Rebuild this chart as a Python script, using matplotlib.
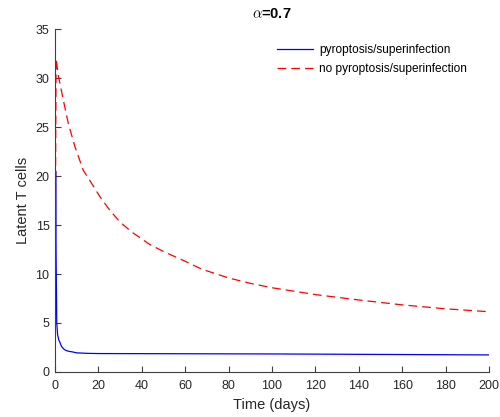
import matplotlib
matplotlib.use("Agg")
import matplotlib.pyplot as plt

plt.rcParams['font.family'] = ['Liberation Sans', 'DejaVu Sans']
plt.rcParams['mathtext.fontset'] = 'cm'

# Data
t_pyro = [0, 0.15, 0.3, 0.5, 0.8, 1.2, 1.7, 2.3, 3, 4, 5, 6.5, 8, 10, 15, 20,
          40, 60, 80, 100, 120, 140, 160, 180, 200]
v_pyro = [0, 12, 20.5, 12, 5.0, 3.8, 3.3, 3.0, 2.6, 2.35, 2.2, 2.1, 2.05, 1.95, 1.9, 1.88,
          1.87, 1.86, 1.85, 1.84, 1.82, 1.80, 1.78, 1.76, 1.74]

t_nopyro = [0, 0.25, 0.5, 1.5, 3.8, 6.1, 9.2, 13, 16.9, 20.7, 25.3, 30, 35.3, 43.8, 50,
            60, 67.6, 80, 90, 100, 120, 140, 160, 180, 200]
v_nopyro = [0, 20, 32.0, 30.3, 27.8, 25.4, 23.0, 20.6, 19.25, 17.9, 16.5, 15.3, 14.3, 13.0,
            12.3, 11.3, 10.5, 9.6, 9.05, 8.6, 7.9, 7.35, 6.85, 6.45, 6.15]

xticks = list(range(0, 201, 20))
yticks = list(range(0, 36, 5))
labels = ['pyroptosis/superinfection', 'no pyroptosis/superinfection']

fig = plt.figure(figsize=(5, 4.17), dpi=100)
ax = fig.add_axes([0.11, 0.108, 0.868, 0.822])

ax.plot(t_pyro, v_pyro, color='#0000ff', lw=0.9, label=labels[0])
ax.plot(t_nopyro, v_nopyro, color='#ff0000', lw=0.9, dashes=(7, 4), label=labels[1])

ax.set_xlim(0, 200)
ax.set_ylim(0, 35)
ax.set_xticks(xticks)
ax.set_yticks(yticks)
for s in ['top', 'right']:
    ax.spines[s].set_visible(False)
for s in ['left', 'bottom']:
    ax.spines[s].set_color('#404040')
    ax.spines[s].set_linewidth(0.8)
ax.tick_params(direction='in', length=4, width=0.8, colors='#404040',
               labelcolor='#262626', labelsize=9)
ax.tick_params(axis='x', pad=6)
ax.tick_params(axis='y', pad=4)

ax.set_xlabel('Time (days)', fontsize=10.5, color='#262626', labelpad=4)
ax.set_ylabel('Latent T cells', fontsize=10.5, color='#262626', labelpad=4)
ax.set_title(r'$\alpha$=0.7', fontsize=10.5, fontweight='bold', color='black', pad=8)

leg = ax.legend(loc='upper left', bbox_to_anchor=(277 / 500, 1 - 44 / 417),
                bbox_transform=fig.transFigure, frameon=False, borderpad=0,
                borderaxespad=0, fontsize=8.6, handlelength=3.0,
                handletextpad=0.5, labelspacing=0.62)

fig.savefig('out.png', dpi=100)
